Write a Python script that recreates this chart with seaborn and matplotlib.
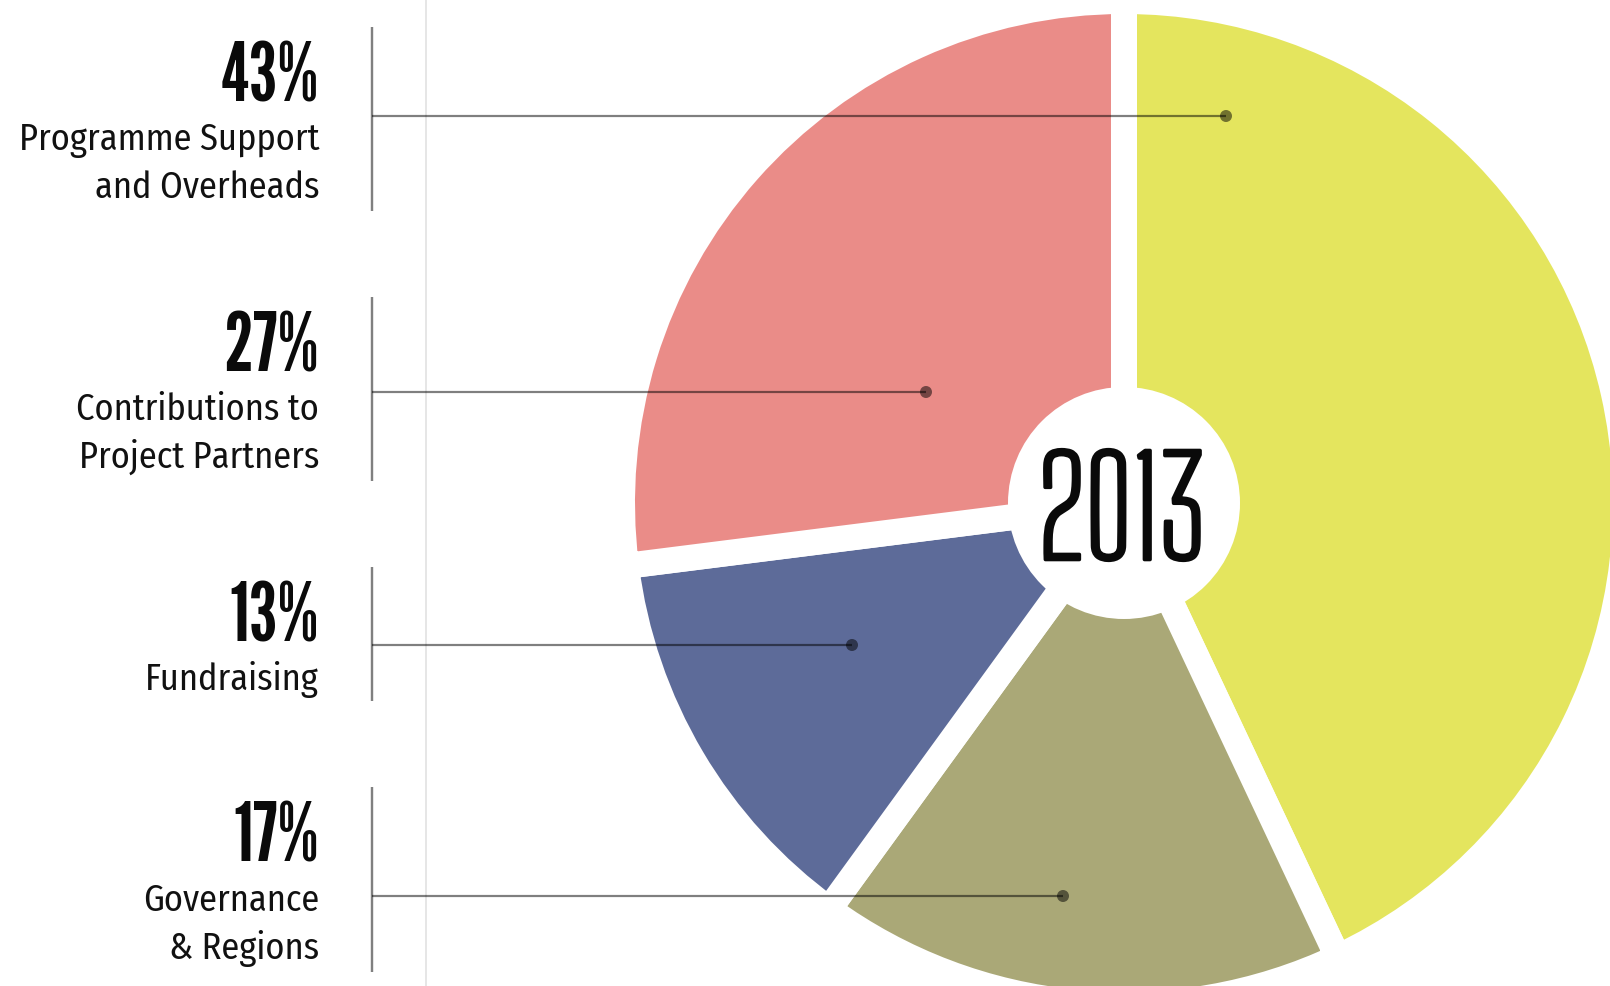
import matplotlib
matplotlib.use("Agg")
import numpy as np
import matplotlib.pyplot as plt
import matplotlib.patheffects as pe
from matplotlib import font_manager as fm
from matplotlib.font_manager import FontProperties
from matplotlib.textpath import TextPath
from matplotlib.patches import Circle
import seaborn as sns

# ---------------- data ----------------
categories = ["Programme Support\nand Overheads", "Governance\n& Regions",
              "Fundraising", "Contributions to\nProject Partners"]
values = [43, 17, 13, 27]
colors = ["#E4E55E", "#AAA877", "#5D6B99", "#EA8C88"]
year_label = "2013"

# ---------------- layout (pixels from top-left) ----------------
W, H, DPI = 1610, 987, 100
label_order = [0, 3, 2, 1]            # rows top -> bottom
pct_baselines = [102, 372, 642, 862]
line_baselines = [150, 420, 690, 911]
line_gap = 48
text_right = 319
bracket_x = 372
bracket_spans = [(28, 212), (298, 482), (568, 702), (788, 973)]
leader_y = [117, 393, 646, 897]
leader_end_x = [1226, 926, 852, 1063]
light_line_x = 426
pie_cx, pie_cy, pie_r = 1124, 504, 489
gap_px = 26
hole_r = 116

sns.set_theme(style="white")
pal = sns.color_palette(colors)

available = {f.name for f in fm.fontManager.ttflist}


def ink(text, fam, weight):
    fp = FontProperties(family=fam, weight=weight)
    return TextPath((0, 0), text, size=100, prop=fp).get_extents()


def pick(cands, sample, hchar, ref_ratio, pen):
    best, best_score = ("DejaVu Sans", "normal"), 1e9
    for i, (fam, w) in enumerate(cands):
        if fam not in available:
            continue
        try:
            r = ink(sample, fam, w).width / ink(hchar, fam, w).height
        except Exception:
            continue
        score = abs(np.log(r / ref_ratio)) + pen * i
        if score < best_score:
            best, best_score = (fam, w), score
    return best


def size_for(hchar, fam, w, target_px):
    h = ink(hchar, fam, w).height
    return target_px * 72.0 / DPI * 100.0 / h


body_cands = [("Roboto Condensed", "normal"), ("Fira Sans Condensed", "normal"),
              ("Barlow Semi Condensed", "normal"), ("Archivo Narrow", "normal"),
              ("PT Sans Narrow", "normal"), ("Asap Condensed", "normal"),
              ("IBM Plex Sans Condensed", "normal"), ("Encode Sans Semi Condensed", "normal"),
              ("Sofia Sans Semi Condensed", "normal"), ("Pragati Narrow", "normal")]
pct_cands = [("Anton", "normal"), ("Oswald", "bold"), ("Bebas Neue", "normal"),
             ("Fjalla One", "normal"), ("League Gothic", "normal"),
             ("Roboto Condensed", "bold"), ("Barlow Condensed", "bold"),
             ("Sofia Sans Extra Condensed", "bold"), ("Saira Extra Condensed", "bold"),
             ("Open Sans Condensed", "bold")]
year_cands = [("Pathway Gothic One", "normal"), ("Sofia Sans Extra Condensed", "normal"),
              ("Saira Extra Condensed", "normal"), ("Fira Sans Extra Condensed", "normal"),
              ("Barlow Condensed", "normal"), ("Big Shoulders Text", "normal"),
              ("Roboto Condensed", "normal"), ("Oswald", "light")]

body_f = pick(body_cands, "Programme Support", "H", 305 / 25.0, 0.002)
pct_f = pick(pct_cands, "43%", "1", 100 / 59.0, 0.02)
year_f = pick(year_cands, "2013", "1", 147 / 109.0, 0.01)

body_size = size_for("H", body_f[0], body_f[1], 25)
pct_size = size_for("1", pct_f[0], pct_f[1], 60)
year_size = size_for("1", year_f[0], year_f[1], 109)

# ---------------- figure ----------------
fig = plt.figure(figsize=(W / DPI, H / DPI), dpi=DPI)
ax = fig.add_axes([0, 0, 1, 1])


def Y(y):
    return H - y


lw_pt = gap_px * 72.0 / DPI
ax.pie(values, colors=pal, startangle=90, counterclock=False,
       center=(pie_cx, Y(pie_cy)), radius=pie_r + gap_px / 2.0,
       wedgeprops=dict(edgecolor="white", linewidth=lw_pt, joinstyle="miter"),
       frame=False)
ax.add_patch(Circle((pie_cx, Y(pie_cy)), hole_r, facecolor="white", edgecolor="none", zorder=3))
ax.text(pie_cx - 2, Y(560.5), year_label, ha="center", va="baseline",
        fontsize=year_size, family=[year_f[0], "DejaVu Sans"], weight=year_f[1],
        color="#0a0a0a", zorder=4,
        path_effects=[pe.withStroke(linewidth=2.6, foreground="#0a0a0a")])

# light vertical rule
ax.plot([light_line_x, light_line_x], [Y(0), Y(H)], color="#e6e6e6", lw=2 * 72 / DPI,
        solid_capstyle="butt", zorder=1)

for row, idx in enumerate(label_order):
    y0, y1 = bracket_spans[row]
    ax.plot([bracket_x, bracket_x], [Y(y0), Y(y1)], color="#808080",
            lw=2.4 * 72 / DPI, solid_capstyle="butt", zorder=5)
    ax.plot([bracket_x, leader_end_x[row]], [Y(leader_y[row])] * 2, color="black",
            alpha=0.5, lw=2.2 * 72 / DPI, solid_capstyle="butt", zorder=5)
    ax.scatter([leader_end_x[row]], [Y(leader_y[row])], s=75, color="black",
               alpha=0.5, edgecolors="none", zorder=6)
    ax.text(text_right, Y(pct_baselines[row]), f"{values[idx]}%", ha="right",
            va="baseline", fontsize=pct_size, family=[pct_f[0], "DejaVu Sans"],
            weight=pct_f[1], color="#0a0a0a", zorder=7)
    for k, line in enumerate(categories[idx].split("\n")):
        ax.text(text_right, Y(line_baselines[row] + k * line_gap), line, ha="right",
                va="baseline", fontsize=body_size, family=[body_f[0], "DejaVu Sans"],
                weight=body_f[1], color="#111111", zorder=7)

ax.set_xlim(0, W)
ax.set_ylim(0, H)
ax.set_aspect("equal")
ax.axis("off")
fig.savefig("out.png", dpi=DPI, facecolor="white")
